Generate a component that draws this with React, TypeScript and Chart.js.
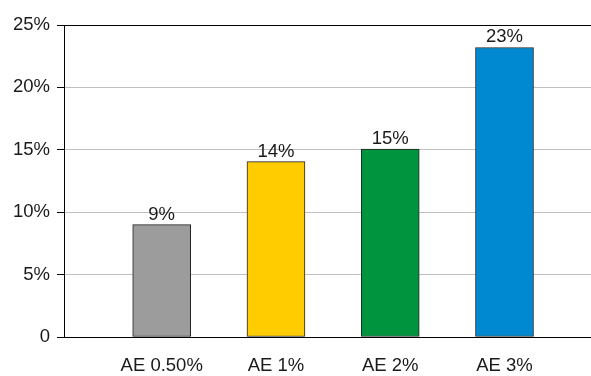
import React, { useEffect, useRef } from "react";
import { Chart, registerables } from "chart.js";

Chart.register(...registerables);

const categories = ["AE 0.50%", "AE 1%", "AE 2%", "AE 3%"];
const values = [9, 14.05, 15.05, 23.2];
const barColors = ["#9c9c9c", "#ffcc00", "#00943f", "#0089d1"];
const yTicks = [0, 5, 10, 15, 20, 25];

const FONT = "'Liberation Sans', Arial, sans-serif";
const FSIZE = 18.5;

const labelPlugin = {
  id: "barLabels",
  afterDatasetsDraw(chart: any) {
    const ctx = chart.ctx;
    const meta = chart.getDatasetMeta(0);
    ctx.save();
    ctx.font = `${FSIZE}px ${FONT}`;
    ctx.fillStyle = "#1a1a1a";
    ctx.textAlign = "center";
    ctx.textBaseline = "alphabetic";
    meta.data.forEach((el: any, i: number) => {
      ctx.fillText(Math.round(values[i]) + "%", el.x, el.y - 5);
    });
    ctx.restore();
  },
};

export default function App() {
  const ref = useRef<HTMLCanvasElement | null>(null);
  useEffect(() => {
    document.body.style.margin = "0";
    const chart = new Chart(ref.current as HTMLCanvasElement, {
      type: "bar",
      data: {
        datasets: [
          {
            data: values.map((v, i) => ({ x: i + 1, y: v })),
            backgroundColor: barColors,
            borderColor: "#222",
            borderWidth: 1,
            borderSkipped: false,
            barThickness: 58,
          },
        ],
      },
      plugins: [labelPlugin],
      options: {
        animation: false,
        responsive: false,
        maintainAspectRatio: false,
        layout: { padding: { top: 25, right: 0, left: 0, bottom: 0 } },
        plugins: { legend: { display: false }, tooltip: { enabled: false } },
        scales: {
          x: {
            type: "linear",
            offset: false,
            min: 0.145,
            max: 4.757,
            afterBuildTicks: (scale: any) => {
              scale.ticks = categories.map((_, i) => ({ value: i + 1 }));
            },
            afterFit: (scale: any) => {
              scale.height = 39;
            },
            grid: { display: false, drawTicks: false },
            border: { display: true, color: "#000", width: 1 },
            ticks: {
              padding: 18,
              color: "#1a1a1a",
              maxRotation: 0,
              autoSkip: false,
              font: { family: FONT, size: FSIZE },
              callback: (v: any) => categories[Number(v) - 1] ?? "",
            },
          },
          y: {
            min: 0,
            max: 25,
            afterBuildTicks: (scale: any) => {
              scale.ticks = yTicks.map((v) => ({ value: v }));
            },
            afterFit: (scale: any) => {
              scale.width = 64;
            },
            grid: {
              color: (c: any) => (c.tick && (c.tick.value === 25 || c.tick.value === 0) ? "#000" : "#c0c0c0"),
              tickColor: "#000",
              tickLength: 7,
              lineWidth: 1,
            },
            border: { display: true, color: "#000", width: 1 },
            ticks: {
              padding: 7,
              color: "#1a1a1a",
              font: { family: FONT, size: FSIZE },
              callback: (v: any) => (Number(v) === 0 ? "0" : v + "%"),
            },
          },
        },
      },
    } as any);
    return () => chart.destroy();
  }, []);
  return (
    <div style={{ width: 591, height: 376 }}>
      <canvas ref={ref} width={591} height={376} style={{ display: "block" }} />
    </div>
  );
}
